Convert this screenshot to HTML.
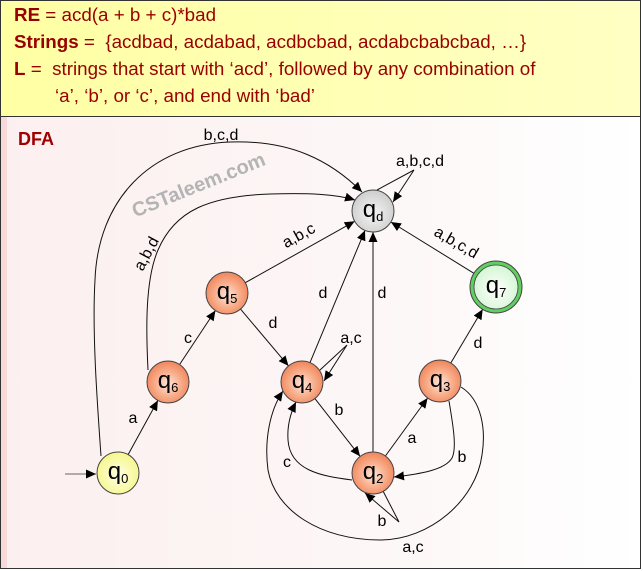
<!DOCTYPE html>
<html><head><meta charset="utf-8"><style>
html,body{margin:0;padding:0;background:#fff;}
svg{display:block;}
text{font-family:"Liberation Sans",Arial,sans-serif;}
</style></head><body>
<svg width="644" height="571" viewBox="0 0 644 571" xmlns="http://www.w3.org/2000/svg">
<defs>
<linearGradient id="hdr" x1="0" y1="0" x2="1" y2="0">
<stop offset="0" stop-color="#ffffa4"/><stop offset="1" stop-color="#ffffc4"/>
</linearGradient>
<linearGradient id="bg" x1="0" y1="0" x2="1" y2="0">
<stop offset="0" stop-color="#fcefef"/><stop offset="0.6" stop-color="#fdf7f7"/><stop offset="1" stop-color="#ffffff"/>
</linearGradient>
<radialGradient id="orn" cx="50%" cy="55%" r="55%">
<stop offset="0" stop-color="#fde6dc"/><stop offset="0.55" stop-color="#f8ad8a"/><stop offset="1" stop-color="#f0845a"/>
</radialGradient>
<radialGradient id="gry" cx="50%" cy="55%" r="55%">
<stop offset="0" stop-color="#f6f6f6"/><stop offset="1" stop-color="#cdcdcd"/>
</radialGradient>
<radialGradient id="yel" cx="50%" cy="55%" r="55%">
<stop offset="0" stop-color="#ffffe6"/><stop offset="1" stop-color="#f6f68a"/>
</radialGradient>
<radialGradient id="grn" cx="50%" cy="55%" r="55%">
<stop offset="0" stop-color="#ffffff"/><stop offset="1" stop-color="#d4f6d4"/>
</radialGradient>
<marker id="ah" markerUnits="userSpaceOnUse" markerWidth="12" markerHeight="10" refX="10" refY="4.5" orient="auto">
<path d="M0,0 L10,4.5 L0,9 z" fill="#000"/>
</marker>
</defs>

<!-- header -->
<rect x="0.5" y="0.5" width="640" height="116" fill="url(#hdr)" stroke="#333" stroke-width="1"/>
<g font-size="18.8" fill="#990000">
<text x="14" y="21" xml:space="preserve"><tspan font-weight="bold">RE</tspan> = acd(a + b + c)*bad</text>
<text x="14" y="48" xml:space="preserve"><tspan font-weight="bold">Strings</tspan> =  {acdbad, acdabad, acdbcbad, acdabcbabcbad, …}</text>
<text x="14" y="75" xml:space="preserve"><tspan font-weight="bold">L</tspan> =  strings that start with ‘acd’, followed by any combination of</text>
<text x="55" y="102" xml:space="preserve">‘a’, ‘b’, or ‘c’, and end with ‘bad’</text>
</g>

<!-- DFA frame -->
<rect x="0.5" y="116.5" width="640" height="452" fill="url(#bg)" stroke="#333" stroke-width="1"/>
<rect x="1" y="117" width="6" height="451" fill="#f8d8d8"/>
<text x="18" y="145" font-size="18" font-weight="bold" fill="#a00000">DFA</text>

<!-- watermark -->
<text transform="translate(201,191) rotate(-22)" text-anchor="middle" font-size="20" font-weight="bold" fill="#b4b4b4">CSTaleem.com</text>

<!-- edges -->
<g stroke="#111" stroke-width="1" fill="none">
<line x1="65" y1="474" x2="96" y2="474" stroke="#666" marker-end="url(#ah)"/>
<line x1="128.1" y1="454.6" x2="157.9" y2="400.4" marker-end="url(#ah)"/>
<line x1="179.6" y1="364.5" x2="215.4" y2="310.5" marker-end="url(#ah)"/>
<line x1="240.5" y1="309.1" x2="288.5" y2="365.9" marker-end="url(#ah)"/>
<line x1="245.3" y1="282.7" x2="354.7" y2="221.3" marker-end="url(#ah)"/>
<line x1="310" y1="362.6" x2="365" y2="230.4" marker-end="url(#ah)"/>
<line x1="373" y1="452" x2="373" y2="232" marker-end="url(#ah)"/>
<line x1="314.9" y1="398.6" x2="360.1" y2="456.4" marker-end="url(#ah)"/>
<line x1="385.4" y1="456" x2="427.6" y2="398" marker-end="url(#ah)"/>
<line x1="450.8" y1="363" x2="482.7" y2="309.3" marker-end="url(#ah)"/>
<line x1="473.9" y1="273.3" x2="390.9" y2="222" marker-end="url(#ah)"/>
<!-- self loops -->
<path d="M377,190 L414,170 L393,202" marker-end="url(#ah)"/>
<path d="M320,370 L347,345 L324,381" marker-end="url(#ah)"/>
<path d="M383,491 L399,522 L365,493" marker-end="url(#ah)"/>
<!-- curves -->
<path d="M449,401 C453,425 457,448 452,458 C445,470 420,474 394,477" marker-end="url(#ah)"/>
<path d="M352,480 C320,476 290,470 288,440 C287,425 291,412 296,402" marker-end="url(#ah)"/>
<path d="M461,387 C482,400 486,430 482,455 C476,500 430,540 380,540 C320,540 275,510 268,470 C264,440 270,410 283,391" marker-end="url(#ah)"/>
<path d="M148,370 C146,330 145,280 158,250 C175,210 210,196 270,194 C310,193 335,194 355,200" marker-end="url(#ah)"/>
<path d="M101,456 C97,400 92,330 95,280 C98,200 150,145 230,142 C290,140 330,160 362,192" marker-end="url(#ah)"/>
</g>

<!-- edge labels -->
<g font-size="16" fill="#000" text-anchor="middle">
<text x="221" y="140">b,c,d</text>
<text x="133" y="423">a</text>
<text x="188" y="343">c</text>
<text x="273" y="328">d</text>
<text x="323" y="298">d</text>
<text x="382" y="298">d</text>
<text x="420" y="166">a,b,c,d</text>
<text x="351" y="343">a,c</text>
<text x="339" y="415">b</text>
<text x="412" y="443">a</text>
<text x="478" y="348">d</text>
<text x="462" y="462">b</text>
<text x="287" y="467">c</text>
<text x="382" y="526">b</text>
<text x="413" y="552">a,c</text>
<text transform="translate(299,236) rotate(-29)" dominant-baseline="central">a,b,c</text>
<text transform="translate(147,254) rotate(-62)" dominant-baseline="central">a,b,d</text>
<text transform="translate(456,243) rotate(30)" dominant-baseline="central">a,b,c,d</text>
</g>

<!-- nodes -->
<g stroke="#444" stroke-width="1">
<circle cx="118" cy="473" r="21" fill="url(#yel)"/>
<circle cx="168" cy="382" r="21" fill="url(#orn)"/>
<circle cx="227" cy="293" r="21" fill="url(#orn)"/>
<circle cx="302" cy="382" r="21" fill="url(#orn)"/>
<circle cx="373" cy="211" r="21" fill="url(#gry)"/>
<circle cx="440" cy="381" r="21" fill="url(#orn)"/>
<circle cx="373" cy="473" r="21" fill="url(#orn)"/>
<circle cx="496" cy="287" r="26" fill="#62cd62"/>
<circle cx="496" cy="287" r="22" fill="url(#grn)" stroke-width="0.8"/>
</g>
<g font-size="24" fill="#000" text-anchor="middle">
<text x="118" y="479">q<tspan font-size="13" dy="4">0</tspan></text>
<text x="168" y="388">q<tspan font-size="13" dy="4">6</tspan></text>
<text x="227" y="299">q<tspan font-size="13" dy="4">5</tspan></text>
<text x="302" y="388">q<tspan font-size="13" dy="4">4</tspan></text>
<text x="373" y="217">q<tspan font-size="13" dy="4">d</tspan></text>
<text x="440" y="387">q<tspan font-size="13" dy="4">3</tspan></text>
<text x="373" y="479">q<tspan font-size="13" dy="4">2</tspan></text>
<text x="496" y="293">q<tspan font-size="13" dy="4">7</tspan></text>
</g>
</svg>
</body></html>
